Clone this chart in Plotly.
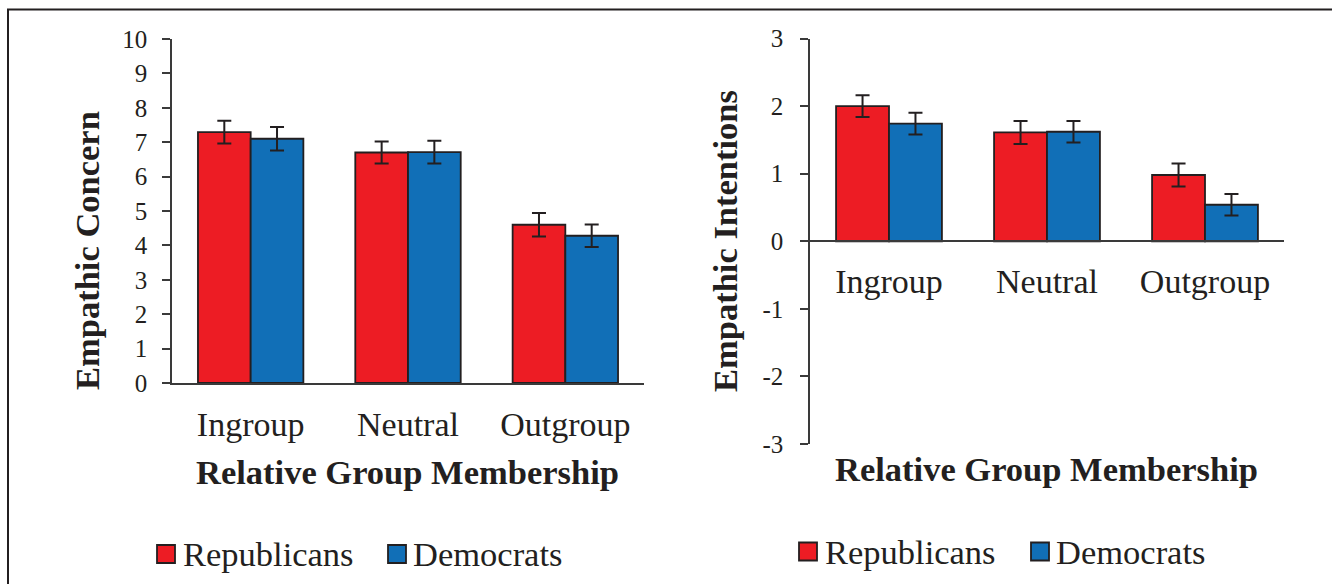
import plotly.graph_objects as go

# Group labels and series values
categories = ["Ingroup", "Neutral", "Outgroup"]

concern_rep = [7.29, 6.70, 4.60]
concern_dem = [7.10, 6.71, 4.28]
concern_rep_err = [0.33, 0.32, 0.34]
concern_dem_err = [0.34, 0.33, 0.33]

intent_rep = [2.00, 1.61, 0.98]
intent_dem = [1.74, 1.62, 0.54]
intent_rep_err = [0.16, 0.17, 0.17]
intent_dem_err = [0.16, 0.16, 0.16]

concern_ticks = list(range(0, 11))
intent_ticks = list(range(-3, 4))

series_names = ["Republicans", "Democrats"]

RED = "#ED1C24"
BLUE = "#116FB7"
INK = "#231F20"
AXIS = "#3a3a3a"
FONT = "Liberation Serif, Times New Roman, serif"

W, H = 1332, 584


def px(x):
    return x / W


def py(y):
    return 1 - y / H


fig = go.Figure()


def add_bars(xaxis, yaxis, values, errors, color, name):
    fig.add_trace(go.Bar(
        x=categories, y=values, name=name,
        marker=dict(color=color, line=dict(color=INK, width=1.8)),
        error_y=dict(type="data", array=errors, visible=True,
                     color=INK, thickness=2, width=7),
        xaxis=xaxis, yaxis=yaxis, showlegend=False,
    ))


add_bars("x", "y", concern_rep, concern_rep_err, RED, series_names[0])
add_bars("x", "y", concern_dem, concern_dem_err, BLUE, series_names[1])
add_bars("x2", "y2", intent_rep, intent_rep_err, RED, series_names[0])
add_bars("x2", "y2", intent_dem, intent_dem_err, BLUE, series_names[1])

tick_font = dict(family=FONT, size=25, color=INK)
cat_font = dict(family=FONT, size=34, color=INK)

fig.update_layout(
    width=W, height=H,
    margin=dict(l=0, r=0, t=0, b=0, autoexpand=False),
    paper_bgcolor="white", plot_bgcolor="white",
    barmode="group", bargap=0.33, bargroupgap=0,
    font=dict(family=FONT, color=INK),
    xaxis=dict(
        domain=[px(172), px(644)], anchor="y",
        showline=True, linecolor=AXIS, linewidth=2,
        ticks="", tickfont=cat_font, ticklabelstandoff=10,
        showgrid=False, zeroline=False, automargin=False,
    ),
    yaxis=dict(
        domain=[py(383), py(39)], anchor="x", range=[0, 10],
        tickvals=concern_ticks, ticktext=[str(t) for t in concern_ticks],
        showline=True, linecolor=AXIS, linewidth=1.5,
        ticks="outside", ticklen=8, tickwidth=1.5, tickcolor=AXIS,
        tickfont=tick_font, ticklabelstandoff=10,
        showgrid=False, zeroline=False, automargin=False,
    ),
    xaxis2=dict(
        domain=[px(810), px(1284)], anchor="free",
        position=py(241.3),
        showline=True, linecolor=AXIS, linewidth=2,
        ticks="", tickfont=cat_font, ticklabelstandoff=10,
        showgrid=False, zeroline=False, automargin=False,
    ),
    yaxis2=dict(
        domain=[py(444), py(38.5)], anchor="x2", range=[-3, 3],
        tickvals=intent_ticks, ticktext=[str(t) for t in intent_ticks],
        showline=True, linecolor=AXIS, linewidth=1.5,
        ticks="outside", ticklen=8, tickwidth=1.5, tickcolor=AXIS,
        tickfont=tick_font, ticklabelstandoff=12,
        showgrid=False, zeroline=False, automargin=False,
    ),
)

title_font = dict(family=FONT, size=34.5, color=INK)
annotations = [
    dict(text="<b>Empathic Concern</b>", x=px(87), y=py(251), textangle=-90),
    dict(text="<b>Empathic Intentions</b>", x=px(725), y=py(241), textangle=-90),
    dict(text="<b>Relative Group Membership</b>", x=px(407), y=py(472)),
    dict(text="<b>Relative Group Membership</b>", x=px(1046), y=py(469)),
]
for a in annotations:
    a.update(xref="paper", yref="paper", showarrow=False, font=title_font,
             xanchor="center", yanchor="middle")

# Legend rows beneath each panel
shapes = []
legend_font = dict(family=FONT, size=34.5, color=INK)
legend_rows = [
    # (swatch-left positions, text-left positions, centre y)
    ((157, 388), (181, 411), 554),
    ((799, 1031), (823, 1054), 551.5),
]
for sw_x, tx_x, cy in legend_rows:
    for name, color, sx, tx in zip(series_names, [RED, BLUE], sw_x, tx_x):
        shapes.append(dict(type="rect", xref="paper", yref="paper",
                           x0=px(sx), x1=px(sx + 18), y0=py(cy + 9), y1=py(cy - 9),
                           fillcolor=color, line=dict(color=INK, width=1.8)))
        annotations.append(dict(text=name, x=px(tx), y=py(cy), xref="paper",
                                yref="paper", showarrow=False, font=legend_font,
                                xanchor="left", yanchor="middle"))

# Outer frame (top and left edges visible)
shapes.append(dict(type="rect", xref="paper", yref="paper",
                   x0=px(8), x1=1.02, y0=-0.02, y1=py(9.5),
                   line=dict(color=INK, width=2), fillcolor="rgba(0,0,0,0)"))

fig.update_layout(annotations=annotations, shapes=shapes)

fig.write_html(
    "out.html",
    post_script="document.body.style.margin='0';document.body.style.overflow='hidden';",
)
